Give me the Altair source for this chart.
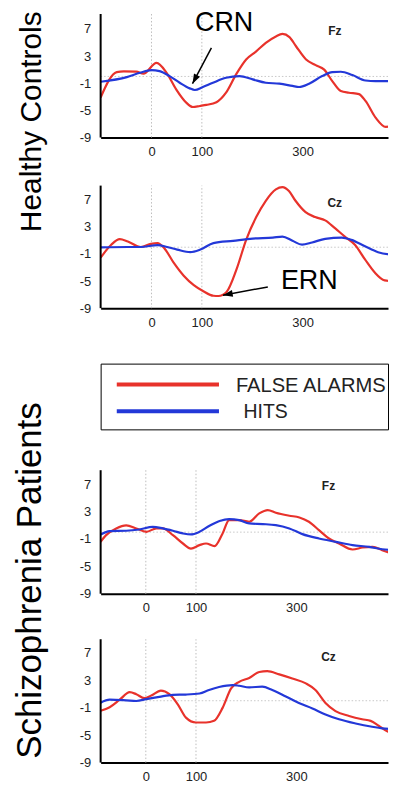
import altair as alt
import pandas as pd

RED = "#e8322b"
BLUE = "#2338d8"
FONT = "Liberation Sans"
SERIES = ["FALSE ALARMS", "HITS"]
X_TICKS = [0, 100, 300]
Y_TICKS = [-9, -5, -1, 3, 7]
GRID_T = [0, 100]

hc_fz_fa_t = [-101, -69, -55, -30, -16, 10, 30, 49, 69, 82, 96, 109, 129, 148, 168, 188, 208, 227, 247, 260, 274, 287, 307, 326, 343, 359, 376, 392, 412, 425, 445, 465, 485]
hc_fz_fa_v = [-3.1, 0.64, 0.75, 0.7, 0.4, 2.0, 0.54, -1.9, -3.86, -4.5, -4.35, -4.2, -3.8, -2.4, 0.3, 2.5, 3.7, 4.94, 5.9, 6.26, 5.8, 4.45, 2.5, 1.67, 1.0, -0.68, -2.15, -2.4, -2.6, -3.6, -6.06, -7.43, -7.3]
hc_fz_hit_t = [-101, -49, -23, 0, 16, 36, 56, 76, 86, 102, 122, 148, 175, 201, 227, 254, 280, 293, 313, 339, 359, 376, 399, 425, 445, 485]
hc_fz_hit_v = [-0.78, -0.1, 0.54, 0.93, 0.78, 0.05, -0.93, -1.76, -2.0, -1.56, -0.93, -0.2, 0.05, -0.44, -0.93, -1.07, -1.4, -1.56, -1.07, 0.05, 0.64, 0.69, 0.2, -0.6, -0.68, -0.68]

hc_cz_fa_t = [-101, -80, -63, -47, -21, -1, 12, 25, 44, 64, 84, 103, 123, 133, 149, 169, 188, 208, 227, 247, 260, 273, 286, 306, 325, 345, 365, 384, 404, 424, 443, 463, 485]
hc_cz_fa_v = [-1.55, 0.37, 1.19, 0.85, 0.03, 0.5, 0.61, -0.1, -2.27, -4.2, -5.6, -6.5, -7.17, -7.2, -6.6, -3.23, 1.1, 4.45, 6.86, 8.54, 8.88, 8.3, 6.86, 5.18, 4.45, 3.97, 2.77, 1.57, 0.37, -1.8, -3.7, -4.9, -5.06]
hc_cz_hit_t = [-101, -47, -21, 12, 31, 51, 77, 97, 123, 162, 201, 241, 260, 280, 299, 319, 345, 378, 397, 424, 450, 485]
hc_cz_hit_v = [-0.01, 0.03, 0.03, 0.32, 0.03, -0.35, -0.73, -0.35, 0.61, 0.95, 1.28, 1.43, 1.57, 0.95, 0.37, 0.7, 1.24, 1.43, 1.09, 0.13, -0.73, -1.17]

sz_fz_fa_t = [-90, -79, -59, -39, -19, 1, 21, 34, 54, 74, 90, 107, 120, 137, 153, 166, 186, 206, 226, 243, 259, 286, 306, 325, 345, 365, 385, 412, 432, 452, 471, 495]
sz_fz_fa_v = [-1.4, -0.44, 0.54, 0.98, 0.54, 0.05, 0.54, 0.54, -0.44, -1.66, -2.4, -1.9, -1.66, -2.05, -0.2, 1.76, 1.76, 1.52, 2.74, 3.23, 2.84, 2.4, 2.15, 1.52, 0.3, -0.93, -1.66, -2.54, -2.25, -2.15, -2.64, -3.28]
sz_fz_hit_t = [-90, -72, -39, -13, 14, 34, 54, 74, 90, 107, 127, 147, 166, 186, 206, 233, 259, 286, 312, 345, 379, 412, 445, 471, 495]
sz_fz_hit_v = [-0.35, 0.15, 0.2, 0.39, 0.78, 0.54, 0.2, -0.19, -0.34, 0.05, 0.93, 1.62, 1.9, 1.76, 1.27, 1.18, 1.03, 0.54, -0.29, -0.93, -1.42, -1.9, -2.15, -2.5, -2.64]

sz_cz_fa_t = [-90, -72, -52, -32, -19, -3, 11, 30, 47, 64, 80, 100, 120, 136, 153, 170, 186, 206, 226, 242, 266, 292, 319, 338, 358, 378, 405, 431, 448, 464, 481, 494]
sz_cz_fa_v = [-1.45, -0.94, 0.15, 1.24, 0.95, 0.38, 0.76, 1.47, 0.95, -0.56, -2.46, -3.17, -3.17, -2.93, -1.04, 1.8, 2.75, 3.32, 4.18, 4.3, 3.84, 3.23, 2.52, 1.57, -0.33, -1.51, -2.22, -2.7, -2.93, -3.64, -4.45, -4.73]
sz_cz_hit_t = [-90, -72, -39, -19, 1, 27, 54, 80, 107, 126, 146, 173, 186, 206, 232, 252, 279, 305, 332, 358, 385, 418, 451, 471, 494]
sz_cz_hit_v = [-0.28, 0.15, 0.05, -0.04, 0.24, 0.57, 0.86, 0.9, 1.05, 1.57, 2.0, 2.28, 2.18, 1.95, 2.04, 1.57, 0.62, -0.33, -1.13, -1.99, -2.7, -3.31, -3.79, -4.02, -4.12]

crn_text = {"t": 144.3, "v": 6.66, "label": "CRN"}
crn_arrow = {"t": 81.4, "v": -1.07, "t0": 119, "v0": 4.21}
ern_text = {"t": 313.4, "v": -6.24, "label": "ERN"}
ern_arrow = {"t": 142, "v": -7.08, "t0": 231, "v0": -5.86}

PANEL_W = 288.5
ARROW_SHAPE = "M0,0L-0.35,1L0.35,1Z"


def waveform_df(fa_t, fa_v, hit_t, hit_v):
    rows = [{"series": SERIES[0], "t": t, "v": v} for t, v in zip(fa_t, fa_v)]
    rows += [{"series": SERIES[1], "t": t, "v": v} for t, v in zip(hit_t, hit_v)]
    return pd.DataFrame(rows)


color_enc = alt.Color("series:N", scale=alt.Scale(domain=SERIES, range=[RED, BLUE]), legend=None)


def panel(df, xdom, ydom, axis_top, height, electrode, el_v, axis_offset=0,
          y_title=None, title_y=0, title_size=30, title_align="center", texts=None, arrows=None):
    xaxis = alt.Axis(values=X_TICKS, grid=False, ticks=False, tickSize=0, domain=True,
                     domainColor="black", domainWidth=2, labelPadding=8, labelFontSize=13,
                     labelColor="#222", labelFlush=False, offset=axis_offset, title=None)
    ykw = dict(values=Y_TICKS, grid=False, ticks=False, tickSize=0, domain=False,
               labelPadding=10, labelFontSize=13, labelColor="#222", labelFlush=False,
               labelExpr="'' + datum.value", title=None)
    x = alt.X("t:Q", scale=alt.Scale(domain=xdom, nice=False, zero=False), axis=xaxis)
    y = alt.Y("v:Q", scale=alt.Scale(domain=ydom, nice=False, zero=False), axis=alt.Axis(**ykw))

    layers = []
    grid = pd.DataFrame({"t": GRID_T, "v": [-9] * len(GRID_T), "v2": [axis_top] * len(GRID_T)})
    layers.append(alt.Chart(grid).mark_rule(color="#bdbdbd", strokeDash=[1.5, 2], strokeWidth=1)
                  .encode(x=x, y=y, y2="v2:Q"))
    zero = pd.DataFrame({"t": [xdom[0]], "t2": [xdom[1]], "v": [0]})
    layers.append(alt.Chart(zero).mark_rule(color="#c8c8c8", strokeDash=[1.5, 2], strokeWidth=1)
                  .encode(x=x, x2="t2:Q", y=y))
    layers.append(alt.Chart(df).mark_line(strokeWidth=2.2, interpolate="monotone", clip=True)
                  .encode(x=x, y=y, color=color_enc, detail="series:N"))
    yline = pd.DataFrame({"t": [xdom[0]], "v": [-9], "v2": [axis_top]})
    layers.append(alt.Chart(yline).mark_rule(color="black", strokeWidth=2)
                  .encode(x=x, y=y, y2="v2:Q"))
    el = pd.DataFrame({"t": [364], "v": [el_v], "label": [electrode]})
    layers.append(alt.Chart(el).mark_text(fontSize=12, fontWeight="bold", color="#222",
                                          align="center", baseline="middle")
                  .encode(x=x, y=y, text="label:N"))
    if y_title:
        tt = pd.DataFrame({"label": [y_title]})
        layers.append(alt.Chart(tt).mark_text(fontSize=title_size, color="black", angle=270,
                                              align=title_align, baseline="alphabetic")
                      .encode(x=alt.value(-59.5), y=alt.value(title_y), text="label:N"))
    if texts:
        tdf = pd.DataFrame(texts)
        layers.append(alt.Chart(tdf).mark_text(fontSize=27, color="black", align="center",
                                               baseline="alphabetic")
                      .encode(x=x, y=y, text="label:N"))
    if arrows:
        for a, ang in arrows:
            adf = pd.DataFrame([a])
            layers.append(alt.Chart(adf).mark_rule(color="black", strokeWidth=1.5)
                          .encode(x=x, y=y, x2="t0:Q", y2="v0:Q"))
            layers.append(alt.Chart(adf).mark_point(shape=ARROW_SHAPE, filled=True, color="black",
                                                    size=380, angle=ang, opacity=1)
                          .encode(x=x, y=y))
    return alt.layer(*layers).properties(width=PANEL_W, height=height)


XDOM_HC = [-101, 469.7]
XDOM_SZ = [-90, 482.6]

p1 = panel(waveform_df(hc_fz_fa_t, hc_fz_fa_v, hc_fz_hit_t, hc_fz_hit_v), XDOM_HC, [-9, 9.2], 9.2, 124,
           "Fz", 6.7, y_title="Healthy Controls", title_y=-2.7, title_size=30, title_align="right",
           texts=[crn_text], arrows=[(crn_arrow, 207.8)])
p2 = panel(waveform_df(hc_cz_fa_t, hc_cz_fa_v, hc_cz_hit_t, hc_cz_hit_v), XDOM_HC, [-11.1, 10.17], 9.1, 144.6,
           "Cz", 6.6, axis_offset=-14.3, texts=[ern_text], arrows=[(ern_arrow, 259.5)])
p3 = panel(waveform_df(sz_fz_fa_t, sz_fz_fa_v, sz_fz_hit_t, sz_fz_hit_v), XDOM_SZ, [-9, 9.05], 9.05, 124,
           "Fz", 6.8, y_title="Schizophrenia Patients", title_y=289.7, title_size=35, title_align="left")
p4 = panel(waveform_df(sz_cz_fa_t, sz_cz_fa_v, sz_cz_hit_t, sz_cz_hit_v), XDOM_SZ, [-9, 9.63], 8.95, 128.5,
           "Cz", 6.4)

legend_df = pd.DataFrame({"series": SERIES, "label": SERIES})
ly = alt.Y("series:N", scale=alt.Scale(type="point", domain=SERIES, range=[21, 47.7], padding=0), axis=None)
leg_rule = alt.Chart(legend_df).mark_rule(strokeWidth=4).encode(
    x=alt.value(16.2), x2=alt.value(118.8), y=ly, color=color_enc)
leg_fa = alt.Chart(legend_df).transform_filter(alt.datum.series == SERIES[0]).mark_text(
    align="right", baseline="middle", fontSize=20.2, dy=1.5, color="#222").encode(
    x=alt.value(286.2), y=ly, text="label:N")
leg_hit = alt.Chart(legend_df).transform_filter(alt.datum.series == SERIES[1]).mark_text(
    align="left", baseline="middle", fontSize=19.5, dy=0.5, color="#222").encode(
    x=alt.value(143.5), y=ly, text="label:N")
legend = alt.layer(leg_rule, leg_fa, leg_hit).properties(
    width=288.5, height=66, view=alt.ViewBackground(stroke="black", strokeWidth=1))

chart = alt.vconcat(p1, p2, legend, p3, p4, spacing=41, bounds="flush").properties(
    padding={"left": 5, "top": -0.5, "right": 0, "bottom": -2}
).configure(font=FONT).configure_view(strokeWidth=0)

chart.save("out.html", embed_options={"renderer": "svg", "actions": False})
